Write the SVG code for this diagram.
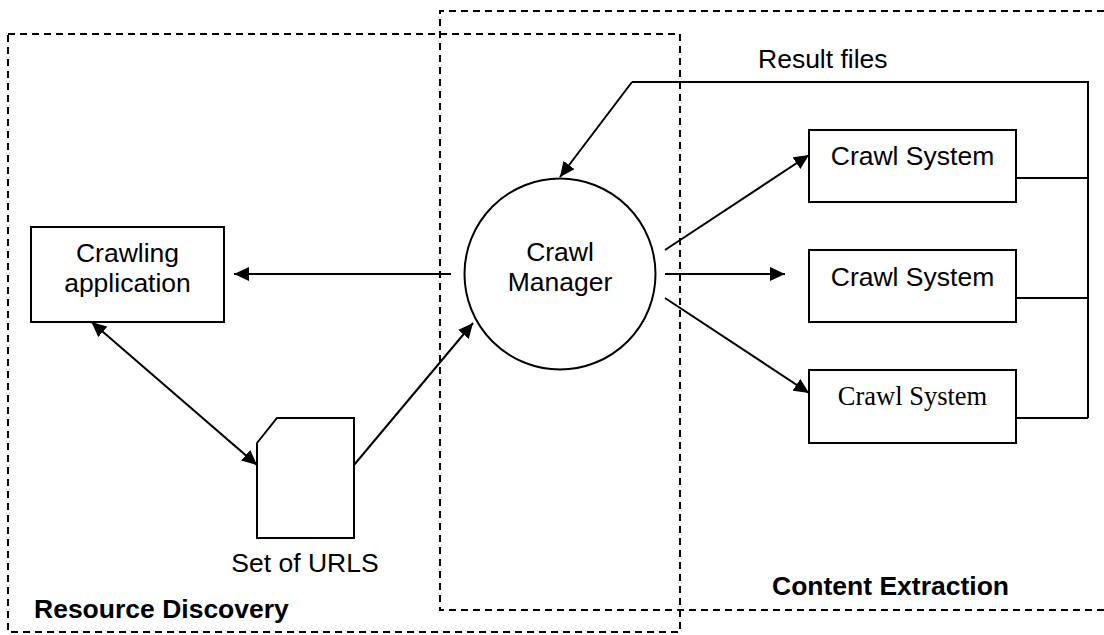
<svg xmlns="http://www.w3.org/2000/svg" width="1104" height="635" viewBox="0 0 1104 635">
<style>
.bg{fill:#fff}
.box{fill:#fff;stroke:#000;stroke-width:2}
.dash{fill:none;stroke:#000;stroke-width:2;stroke-dasharray:7,5}
.ln{fill:none;stroke:#000;stroke-width:2}
.arr{fill:none;stroke:#000;stroke-width:2;marker-end:url(#ah)}
.t{font-family:"Liberation Sans",Arial,sans-serif;font-size:26.5px;fill:#000}
.ts{font-family:"Liberation Serif","Times New Roman",serif;font-size:26.5px;fill:#000}
.tb{font-family:"Liberation Sans",Arial,sans-serif;font-size:26.5px;font-weight:bold;fill:#000}
</style>
<defs>
<marker id="ah" markerUnits="userSpaceOnUse" markerWidth="16" markerHeight="14" refX="15" refY="7" orient="auto-start-reverse" viewBox="0 0 16 14">
<path d="M0,0 L15,7 L0,14 z" fill="#000"/>
</marker>
</defs>
<rect class="bg" x="0" y="0" width="1104" height="635"/>
<g id="regions">
<path id="content-extraction-region" class="dash" d="M1104,11 H440 V610 H1104"/>
<rect id="resource-discovery-region" class="dash" x="8" y="34" width="672" height="598"/>
<text class="tb" x="34" y="618">Resource Discovery</text>
<text class="tb" x="772" y="595">Content Extraction</text>
</g>
<g id="connectors">
<path class="ln" d="M1016,178 H1088 M1016,298 H1088 M1016,418 H1088 M1088,418 V82 H632"/>
<path class="arr" d="M632,82 L560,177"/>
<path class="arr" d="M665,250 L809,155"/>
<path class="arr" d="M665,274 L785,274"/>
<path class="arr" d="M665,298 L809,393"/>
<path class="arr" d="M451,274 L234,274"/>
<path class="arr" d="M91.5,322 L257,465" style="marker-start:url(#ah)"/>
<path class="arr" d="M354,465 L473,323"/>
<text class="t" x="758" y="68">Result files</text>
</g>
<g id="crawl-manager">
<circle class="box" cx="560" cy="274" r="95.5"/>
<text class="t" x="560" y="261" text-anchor="middle">Crawl</text>
<text class="t" x="560" y="291" text-anchor="middle">Manager</text>
</g>
<g id="crawling-application">
<rect class="box" x="31" y="227" width="193" height="95"/>
<text class="t" x="127.5" y="262" text-anchor="middle">Crawling</text>
<text class="t" x="127.5" y="292" text-anchor="middle">application</text>
</g>
<g id="set-of-urls">
<path class="box" d="M277,418 H354 V538 H257 V443 Z"/>
<text class="t" x="305" y="572" text-anchor="middle">Set of URLS</text>
</g>
<g id="crawl-system-1">
<rect class="box" x="809" y="130" width="207" height="72"/>
<text class="t" x="912.5" y="165" text-anchor="middle">Crawl System</text>
</g>
<g id="crawl-system-2">
<rect class="box" x="809" y="250" width="207" height="72"/>
<text class="t" x="912.5" y="286" text-anchor="middle">Crawl System</text>
</g>
<g id="crawl-system-3">
<rect class="box" x="809" y="370" width="207" height="73"/>
<text class="ts" x="912.5" y="405" text-anchor="middle">Crawl System</text>
</g>
</svg>
